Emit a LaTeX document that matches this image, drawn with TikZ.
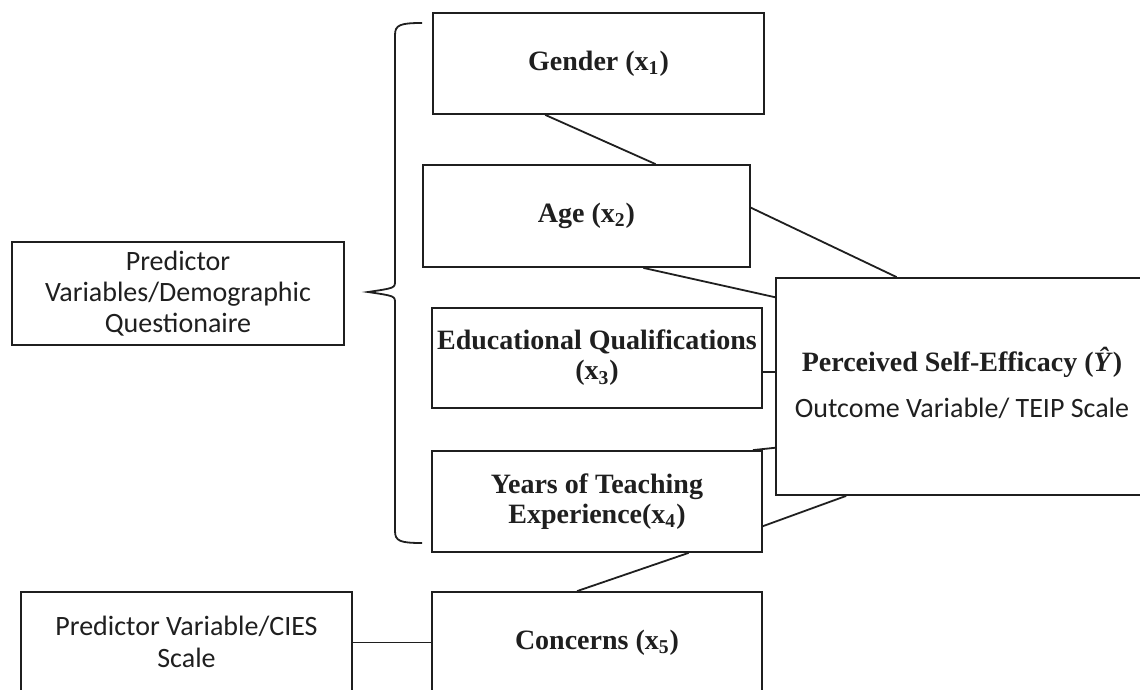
\documentclass[tikz,border=0pt]{standalone}
\usepackage{fontspec}
\setmainfont{Liberation Serif}
\newfontfamily\calibfont{Carlito}
\usetikzlibrary{calc}
\tikzset{
    varbox/.style={draw,line width=0.9pt,align=center,inner sep=1pt,
        font=\fontsize{14}{15}\selectfont\bfseries},
    notebox/.style={draw,line width=0.9pt,align=center,inner sep=1pt,
        font=\calibfont\fontsize{14}{15.5}\selectfont}
}
\begin{document}
\begin{tikzpicture}[x=0.5pt,y=-0.5pt,line width=0.9pt,color=black!88]
\useasboundingbox (0,0) rectangle (1140,690);
% predictor boxes
\node[varbox,minimum width=165.5pt,minimum height=50.5pt] (gender) at (598.5,63.5) {Gender (x\textsubscript{1})};
\node[varbox,minimum width=163.5pt,minimum height=51pt] (age) at (586.5,216) {Age (x\textsubscript{2})};
\node[varbox,minimum width=165pt,minimum height=50pt] (edu) at (597,358) {Educational Qualifications\\(x\textsubscript{3})};
\node[varbox,minimum width=165pt,minimum height=50.5pt] (years) at (597,501.5) {Years of Teaching\\Experience(x\textsubscript{4})};
\node[varbox,minimum width=165pt,minimum height=50.5pt] (concerns) at (597,642.5) {Concerns (x\textsubscript{5})};
% outcome
\node[notebox,minimum width=186pt,minimum height=108.5pt] (pse) at (962,386.5) {};
\node[font=\calibfont\fontsize{14}{15.5}\selectfont,align=center] (pselabel) at (962,383)
    {{\rmfamily\bfseries Perceived Self-Efficacy (\textit{Ŷ})}\\[7.5pt]Outcome Variable/ TEIP Scale};
% side notes
\node[notebox,minimum width=166pt,minimum height=51.5pt] (demog) at (178,293.5) {Predictor\\Variables/Demographic\\Questionaire};
\node[notebox,font=\calibfont\fontsize{14}{16}\selectfont,minimum width=165.5pt,minimum height=50pt] (cies) at (186.5,642) {Predictor Variable/CIES\\Scale};
% brace
\draw (422,23) .. controls (400,23) and (395,25) .. (395,35) -- (395,281)
    .. controls (395,288) .. (368,292) .. controls (395,296) .. (395,303)
    -- (395,531) .. controls (395,541) and (400,543) .. (422,543);
% connectors
\draw ($(gender.south west)!.34!(gender.south east)$) -- ($(age.north west)!.71!(age.north east)$);
\draw ($(age.north east)!.42!(age.south east)$) -- ($(pse.north west)!.325!(pse.north east)$);
\draw ($(age.south west)!.673!(age.south east)$) -- ($(pse.north west)!.092!(pse.south west)$);
\draw ($(edu.north east)!.64!(edu.south east)$) coordinate (e3) -- (e3 -| pse.west);
\draw ($(years.north west)!.97!(years.north east)$) -- ($(pse.north west)!.78!(pse.south west)$);
\draw ($(years.north east)!.74!(years.south east)$) -- ($(pse.south west)!.19!(pse.south east)$);
\draw ($(years.south west)!.776!(years.south east)$) -- ($(concerns.north west)!.44!(concerns.north east)$);
\draw (concerns.west -| cies.east) -- (concerns.west);
\end{tikzpicture}
\end{document}
